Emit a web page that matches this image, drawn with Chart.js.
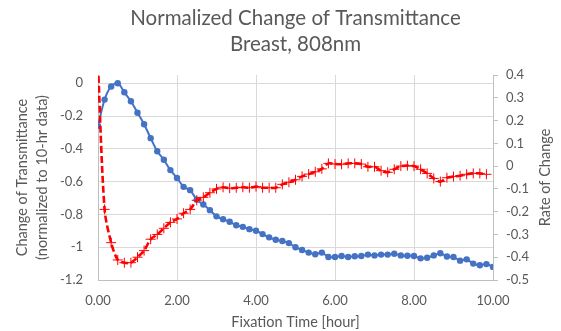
<!DOCTYPE html>
<html>
<head>
<meta charset="utf-8">
<script src="https://cdn.jsdelivr.net/npm/chart.js@4/dist/chart.umd.min.js"></script>
<style>
  html, body { margin: 0; padding: 0; background: #fff; }
  #wrap { width: 561px; height: 331px; position: relative; }
</style>
</head>
<body>
<div id="wrap"><canvas id="chart"></canvas></div>
<script>
// ─── Data (10-minute steps, 0 to 10 hours) ───
const hours = Array.from({ length: 61 }, (_, i) => i / 6);

const transmittance = [
  -0.26, -0.10, -0.02, 0.0, -0.055, -0.11, -0.18, -0.25, -0.335, -0.415,
  -0.467, -0.53, -0.578, -0.632, -0.652, -0.71, -0.74, -0.774, -0.812, -0.83,
  -0.845, -0.866, -0.876, -0.89, -0.90, -0.92, -0.94, -0.955, -0.962, -0.975,
  -1.0, -1.017, -1.033, -1.043, -1.033, -1.06, -1.06, -1.054, -1.06, -1.055,
  -1.054, -1.045, -1.05, -1.045, -1.045, -1.04, -1.05, -1.052, -1.054, -1.068,
  -1.064, -1.05, -1.037, -1.057, -1.06, -1.082, -1.074, -1.10, -1.11, -1.103,
  -1.12
];

const rateOfChange = [
  0.44, -0.19, -0.336, -0.412, -0.424, -0.424, -0.40, -0.371, -0.321, -0.30,
  -0.273, -0.247, -0.232, -0.207, -0.19, -0.15, -0.137, -0.117, -0.10, -0.093,
  -0.097, -0.095, -0.093, -0.095, -0.09, -0.095, -0.095, -0.095, -0.08, -0.071,
  -0.06, -0.045, -0.035, -0.025, -0.012, 0.012, 0.009, 0.008, 0.012, 0.012,
  0.009, -0.003, -0.003, -0.02, -0.027, -0.014, 0.0, 0.002, 0.0, -0.014,
  -0.032, -0.054, -0.068, -0.051, -0.046, -0.042, -0.036, -0.032, -0.032, -0.036
];

const xTicks = [0, 2, 4, 6, 8, 10];
const leftTicks = [-1.2, -1.0, -0.8, -0.6, -0.4, -0.2, 0];
const rightTicks = [-0.5, -0.4, -0.3, -0.2, -0.1, 0, 0.1, 0.2, 0.3, 0.4];

const titleLines = ['Normalized Change of Transmittance', 'Breast, 808nm'];
const rightTitle = 'Rate of Change';

// ─── Style ───
const FONT = "'Lato', 'Liberation Sans', sans-serif";
const TEXT = '#595959';
const GRID = '#d9d9d9';
const AXIS = '#bfbfbf';

// chart title + right axis title (Excel reads it bottom-to-top, Chart.js would flip it)
const titlePlugin = {
  id: 'excelTitle',
  afterDraw(chart) {
    const { ctx, chartArea } = chart;
    const cx = (chartArea.left + chartArea.right) / 2;
    ctx.save();
    ctx.fillStyle = TEXT;
    ctx.font = `20.5px ${FONT}`;
    ctx.textAlign = 'center';
    ctx.textBaseline = 'middle';
    ctx.fillText(titleLines[0], cx, 18);
    ctx.fillText(titleLines[1], cx, 44);

    ctx.font = `14.5px ${FONT}`;
    ctx.translate(545, (chartArea.top + chartArea.bottom) / 2);
    ctx.rotate(-Math.PI / 2);
    ctx.fillText(rightTitle, 0, 0);
    ctx.restore();
  }
};

new Chart(document.getElementById('chart'), {
  type: 'line',
  data: {
    datasets: [
      {
        label: 'Change of Transmittance',
        data: hours.map((h, i) => ({ x: h, y: transmittance[i] })),
        yAxisID: 'y',
        borderColor: '#4472c4',
        backgroundColor: '#4472c4',
        borderWidth: 2,
        pointRadius: 3.2,
        pointBorderWidth: 0,
        tension: 0.3,
        order: 2,
      },
      {
        label: 'Rate of Change',
        data: rateOfChange.map((v, i) => ({ x: hours[i], y: v })),
        yAxisID: 'y1',
        borderColor: '#ff0000',
        backgroundColor: '#ff0000',
        borderWidth: 2.6,
        borderDash: [7, 3],
        pointStyle: 'cross',
        pointRadius: 5,
        pointBorderWidth: 1,
        tension: 0.3,
        order: 1,
      }
    ]
  },
  options: {
    responsive: true,
    maintainAspectRatio: false,
    animation: false,
    layout: { padding: { top: 75, left: 0, right: 0, bottom: 0 } },
    plugins: { legend: { display: false }, tooltip: { enabled: false } },
    scales: {
      x: {
        type: 'linear',
        min: 0,
        max: 10,
        afterFit: s => { s.height = 51; },
        afterBuildTicks: s => { s.ticks = xTicks.map(v => ({ value: v })); },
        grid: { color: GRID, drawTicks: false },
        border: { color: AXIS },
        ticks: {
          color: TEXT, font: { family: FONT, size: 13 }, padding: 13,
          maxRotation: 0,
          callback: v => v.toFixed(2),
        },
        title: {
          display: true, text: 'Fixation Time [hour]', color: TEXT,
          font: { family: FONT, size: 14.5, lineHeight: 1.2 }, padding: { top: 0, bottom: 0 },
        },
      },
      y: {
        position: 'left',
        min: -1.2,
        max: 0.05,
        afterFit: s => { s.width = 98; },
        afterBuildTicks: s => { s.ticks = leftTicks.map(v => ({ value: v })); },
        grid: { color: GRID, drawTicks: false },
        border: { color: AXIS },
        ticks: {
          color: TEXT, font: { family: FONT, size: 13 }, padding: 15,
          callback: v => (Math.abs(v) < 1e-9 ? '0' : String(Math.round(v * 10) / 10)),
        },
        title: {
          display: true, text: ['Change of Transmittance', '(normalized to 10-hr data)'], color: TEXT,
          font: { family: FONT, size: 14.5, lineHeight: 1.38 }, padding: { top: 12, bottom: 0 },
        },
      },
      y1: {
        position: 'right',
        min: -0.5,
        max: 0.4,
        afterFit: s => { s.width = 68; },
        afterBuildTicks: s => { s.ticks = rightTicks.map(v => ({ value: v })); },
        grid: { drawOnChartArea: false, color: AXIS, tickLength: 5 },
        border: { color: AXIS },
        ticks: {
          color: TEXT, font: { family: FONT, size: 13 }, padding: 8,
          callback: v => (Math.abs(v) < 1e-9 ? '0' : String(Math.round(v * 10) / 10)),
        },
      },
    },
  },
  plugins: [titlePlugin],
});
</script>
</body>
</html>
